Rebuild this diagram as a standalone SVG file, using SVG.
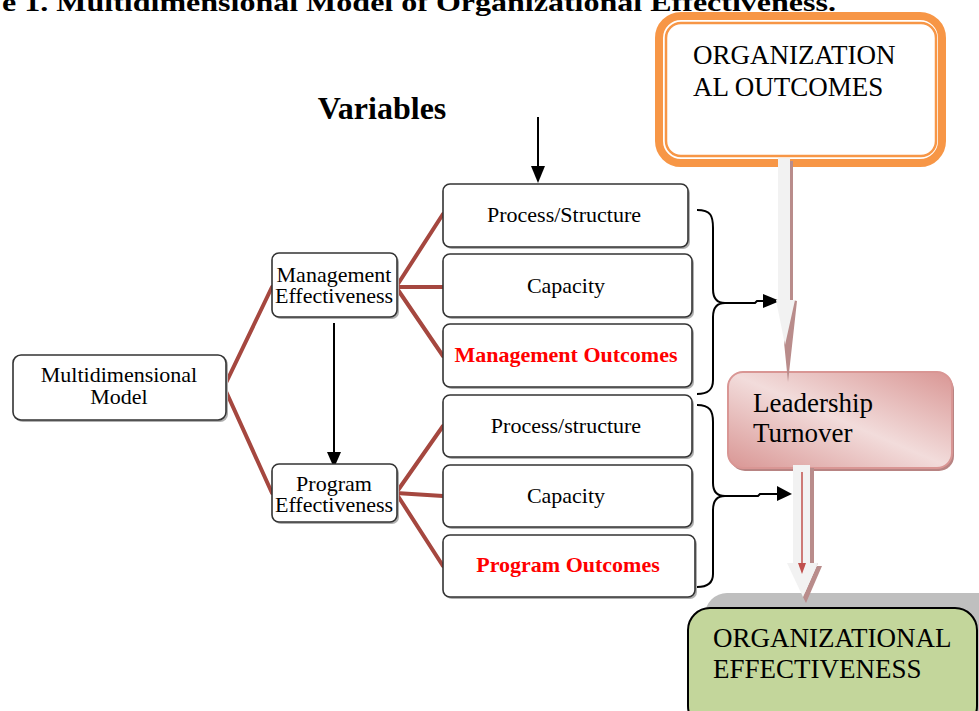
<svg xmlns="http://www.w3.org/2000/svg" width="979" height="711" viewBox="0 0 979 711">
<defs>
<style>
.t{font-family:"Liberation Serif","Times New Roman",serif;fill:#000}
.bx{fill:#fff;stroke:#333;stroke-width:1.6}
.sh{fill:#b0b0b0}
.br{stroke:#A5473F;stroke-width:4;fill:none;stroke-linecap:round}
.ln{stroke:#000;stroke-width:2;fill:none}
.c{text-anchor:middle;font-size:22px}
.red{fill:#FF0000;font-weight:bold}
.big{font-size:27px}
</style>
<linearGradient id="pink" x1="0" y1="1" x2="1" y2="0">
<stop offset="0" stop-color="#D99694"/>
<stop offset="0.5" stop-color="#F2DCDB"/>
<stop offset="1" stop-color="#D99694"/>
</linearGradient>
</defs>
<rect width="979" height="711" fill="#fff"/>
<text class="t" x="2" y="11" font-size="26" font-weight="bold" textLength="834" lengthAdjust="spacingAndGlyphs">e 1. Multidimensional Model of Organizational Effectiveness.</text>
<text class="t" x="382" y="119" font-size="32" font-weight="bold" text-anchor="middle">Variables</text>

<g id="connectors">
<line class="br" x1="224" y1="387" x2="272" y2="287"/>
<line class="br" x1="224" y1="387" x2="272" y2="493"/>
<line class="br" x1="396" y1="287" x2="443" y2="214"/>
<line class="br" x1="396" y1="287" x2="443" y2="287"/>
<line class="br" x1="396" y1="287" x2="443" y2="356"/>
<line class="br" x1="396" y1="493" x2="443" y2="426"/>
<line class="br" x1="396" y1="493" x2="443" y2="496"/>
<line class="br" x1="396" y1="493" x2="443" y2="566"/>
<line class="ln" x1="334" y1="323" x2="334" y2="455"/>
<polygon points="327,452 341,452 334,468" fill="#000"/>
<line class="ln" x1="538" y1="117" x2="538" y2="168"/>
<polygon points="531,166 545,166 538,183" fill="#000"/>
<path class="ln" d="M697 210 C711 210 713 216 713 228 L713 289 C713 299 717 303 725 303 C717 303 713 307 713 317 L713 380 C713 390 708 394 697 394"/>
<path class="ln" d="M697 405 C710 405 713 411 713 422 L713 483 C713 492 717 496 725 496 C717 496 713 500 713 510 L713 574 C713 583 708 587 697 587"/>
<path class="ln" d="M725 303 L755 303 L757 301 L765 301"/>
<polygon points="763,294 763,308 780,301" fill="#000"/>
<path class="ln" d="M725 496 L758 496 L760 494 L778 494"/>
<polygon points="777,486 777,501 792,494" fill="#000"/>
</g>

<g id="multidimensional-model">
<rect class="sh" x="15" y="357" width="213" height="65" rx="8"/>
<rect class="bx" x="13" y="355" width="213" height="65" rx="8"/>
<text class="t c" x="119" y="382">Multidimensional</text>
<text class="t c" x="119" y="404">Model</text>
</g>
<g id="management-effectiveness">
<rect class="sh" x="274" y="255" width="125" height="64" rx="7"/>
<rect class="bx" x="272" y="253" width="125" height="64" rx="7"/>
<text class="t c" x="334" y="282">Management</text>
<text class="t c" x="334" y="303">Effectiveness</text>
</g>
<g id="program-effectiveness">
<rect class="sh" x="274" y="466" width="125" height="58" rx="7"/>
<rect class="bx" x="272" y="464" width="125" height="58" rx="7"/>
<text class="t c" x="334" y="491">Program</text>
<text class="t c" x="334" y="512">Effectiveness</text>
</g>

<g id="mgmt-process">
<rect class="sh" x="445" y="186" width="245" height="63" rx="7"/>
<rect class="bx" x="443" y="184" width="245" height="63" rx="7"/>
<text class="t c" x="564" y="222">Process/Structure</text>
</g>
<g id="mgmt-capacity">
<rect class="sh" x="445" y="256" width="249" height="63" rx="7"/>
<rect class="bx" x="443" y="254" width="249" height="63" rx="7"/>
<text class="t c" x="566" y="293">Capacity</text>
</g>
<g id="mgmt-outcomes">
<rect class="sh" x="445" y="326" width="249" height="63" rx="7"/>
<rect class="bx" x="443" y="324" width="249" height="63" rx="7"/>
<text class="t c red" x="566" y="362">Management Outcomes</text>
</g>
<g id="prog-process">
<rect class="sh" x="445" y="397" width="249" height="62" rx="7"/>
<rect class="bx" x="443" y="395" width="249" height="62" rx="7"/>
<text class="t c" x="566" y="433">Process/structure</text>
</g>
<g id="prog-capacity">
<rect class="sh" x="445" y="467" width="249" height="62" rx="7"/>
<rect class="bx" x="443" y="465" width="249" height="62" rx="7"/>
<text class="t c" x="566" y="503">Capacity</text>
</g>
<g id="prog-outcomes">
<rect class="sh" x="445" y="537" width="252" height="62" rx="7"/>
<rect class="bx" x="443" y="535" width="252" height="62" rx="7"/>
<text class="t c red" x="568" y="572">Program Outcomes</text>
</g>

<g id="organizational-outcomes">
<rect x="659" y="16" width="283" height="147" rx="22" fill="#fff" stroke="#F79646" stroke-width="8"/>
<rect x="666" y="23" width="270" height="133" rx="15" fill="#fff" stroke="#F79646" stroke-width="2.5"/>
<text class="t big" x="693" y="64">ORGANIZATION</text>
<text class="t big" x="693" y="96">AL OUTCOMES</text>
</g>

<g id="leadership-turnover">
<rect x="730" y="375" width="224" height="96" rx="15" fill="#B88483"/>
<rect x="728" y="372" width="224" height="96" rx="15" fill="url(#pink)" stroke="#D99694" stroke-width="2"/>
<text class="t big" x="753" y="412">Leadership</text>
<text class="t big" x="753" y="442">Turnover</text>
</g>

<g id="organizational-effectiveness">
<rect x="705" y="593" width="300" height="140" rx="22" fill="#BFBFBF"/>
<rect x="688" y="608" width="289" height="120" rx="22" fill="#C3D69B" stroke="#000" stroke-width="2"/>
<text class="t big" x="713" y="647">ORGANIZATIONAL</text>
<text class="t big" x="713" y="678">EFFECTIVENESS</text>
</g>

<g id="block-arrows">
<polygon points="790,161 793,161 793,300 797,301 788,382 784,342" fill="#B98C8B"/>
<polygon points="778,158 790,158 790,300 795,300 785,345 776,300 778,300" fill="#F2F2F2"/>
<polygon points="810,468 814,468 814,566 822,566 806,603 803,597 818,563 810,563" fill="#B98C8B"/>
<polygon points="793,465 810,465 810,563 818,563 803,597 787,563 793,563" fill="#F2F2F2"/>
<line x1="802" y1="472" x2="802" y2="564" stroke="#C0504D" stroke-width="1.5"/>
<polygon points="798,563 806,563 802,574" fill="#C0504D"/>
</g>
</svg>
